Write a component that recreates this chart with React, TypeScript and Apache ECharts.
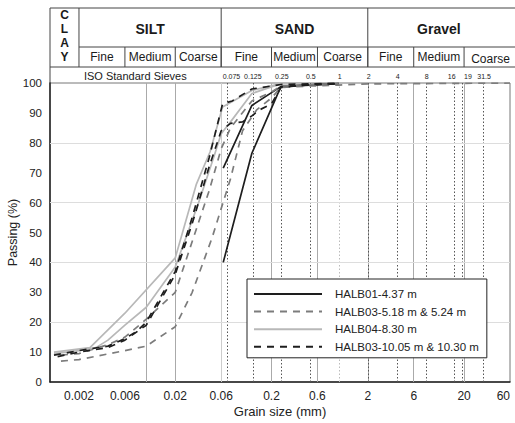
import React, { useEffect, useRef } from "react";
import * as echarts from "echarts";

const FONT = "'Liberation Sans', Arial, Helvetica, sans-serif";

const X_MIN = 0.001;
const X_MAX = 60;
const xTickValues = [0.002, 0.006, 0.02, 0.06, 0.2, 0.6, 2, 6, 20, 60];
const xTickLabels = ["0.002", "0.006", "0.02", "0.06", "0.2", "0.6", "2", "6", "20", "60"];
const sieveSizes = [0.075, 0.125, 0.25, 0.5, 1, 2, 4, 8, 16, 19, 31.5];
const sieveLabels = ["0.075", "0.125", "0.25", "0.5", "1", "2", "4", "8", "16", "19", "31.5"];
const hGridValues = [20, 40, 60, 80];

const mainClasses = ["SILT", "SAND", "Gravel"];
const mainBounds = [0.002, 0.06, 2, 60];
const subClasses = ["Fine", "Medium", "Coarse", "Fine", "Medium", "Coarse", "Fine", "Medium", "Coarse"];
const subBounds = [0.002, 0.006, 0.02, 0.06, 0.2, 0.6, 2, 6, 20, 60];
const clayLetters = ["C", "L", "A", "Y"];

const legendNames = [
  "HALB01-4.37 m",
  "HALB03-5.18 m & 5.24 m",
  "HALB04-8.30 m",
  "HALB03-10.05 m & 10.30 m",
];

// HALB01-4.37 m (two curves)
const halb01a = [[0.063, 40], [0.125, 76.5], [0.25, 98.8], [0.5, 99.3], [1, 99.8]];
const halb01b = [[0.063, 71.5], [0.125, 92.5], [0.25, 98.8], [0.5, 99.4], [1, 99.8]];
// HALB03-5.18 m & 5.24 m
const halb03s1 = [[0.0013, 7], [0.002, 7.5], [0.006, 10.5], [0.01, 12], [0.02, 18.5], [0.03, 30], [0.048, 48], [0.075, 68], [0.1, 84], [0.14, 91], [0.2, 95], [0.25, 98.5], [0.5, 99], [1, 99.3], [2, 99.7], [60, 100]];
const halb03s2 = [[0.0013, 9], [0.002, 9.5], [0.004, 12.5], [0.006, 15], [0.01, 21], [0.02, 30], [0.03, 47], [0.045, 64], [0.06, 78], [0.075, 85], [0.125, 94], [0.2, 97], [0.25, 99], [0.5, 99.5], [1, 99.8]];
// HALB04-8.30 m
const halb04a = [[0.0011, 10], [0.0026, 11.5], [0.006, 23], [0.02, 41.5], [0.033, 66], [0.046, 77], [0.062, 92], [0.125, 97.5], [0.25, 99.8], [0.5, 100]];
const halb04b = [[0.0011, 9.5], [0.002, 10.5], [0.003, 11.5], [0.004, 14], [0.006, 19], [0.01, 25], [0.02, 38.5], [0.035, 60], [0.05, 75], [0.06, 83], [0.075, 87], [0.125, 96.5], [0.25, 99.8], [0.5, 100]];
// HALB03-10.05 m & 10.30 m
const halb03d1 = [[0.0011, 9], [0.002, 10.5], [0.004, 12], [0.006, 14.5], [0.008, 17], [0.01, 20], [0.02, 37], [0.03, 55], [0.045, 75], [0.062, 93], [0.078, 94], [0.125, 98], [0.25, 99.5], [0.5, 99.7], [1, 100]];
const halb03d2 = [[0.0012, 8.5], [0.002, 10], [0.004, 11.5], [0.006, 14], [0.01, 19], [0.02, 36], [0.03, 53], [0.045, 72], [0.06, 84], [0.075, 86.5], [0.1, 87], [0.125, 89], [0.15, 91], [0.2, 93], [0.25, 98.5], [0.5, 99.5], [1, 99.8]];

const BLACK = "#1e1e1e";
const GRAY = "#7c7c7c";
const LIGHT = "#b8b8b8";
const DASH = [7, 6];

const curves = [
  { name: legendNames[0], data: halb01a, color: BLACK, type: "solid" as any },
  { name: legendNames[0], data: halb01b, color: BLACK, type: "solid" as any },
  { name: legendNames[1], data: halb03s1, color: GRAY, type: DASH as any },
  { name: legendNames[1], data: halb03s2, color: GRAY, type: DASH as any },
  { name: legendNames[2], data: halb04a, color: LIGHT, type: "solid" as any },
  { name: legendNames[2], data: halb04b, color: LIGHT, type: "solid" as any },
  { name: legendNames[3], data: halb03d1, color: BLACK, type: DASH as any },
  { name: legendNames[3], data: halb03d2, color: BLACK, type: DASH as any },
];

export default function App() {
  const ref = useRef<HTMLDivElement>(null);

  useEffect(() => {
    if (!ref.current) return;
    const chart = echarts.init(ref.current, undefined, { renderer: "svg" });

    const gridTop = 83;
    const markData: any[] = [];
    xTickValues.slice(0, -1).forEach((v) =>
      markData.push({ xAxis: v, lineStyle: { color: v === 0.06 ? "#cccccc" : "#aaaaaa", width: 1, type: "solid" } })
    );
    sieveSizes.forEach((v) =>
      markData.push({ xAxis: v, lineStyle: { color: v === 1 ? "#bbbbbb" : "#555555", width: 1, type: [1.5, 2] } })
    );
    hGridValues.forEach((v) =>
      markData.push({ yAxis: v, lineStyle: { color: "#dddddd", width: 1, type: "solid" } })
    );

    const option: any = {
      animation: false,
      backgroundColor: "#ffffff",
      textStyle: { fontFamily: FONT },
      grid: {
        left: 50, right: 5, top: gridTop, bottom: 41,
        containLabel: false,
        outerBoundsMode: "none",
        show: true, borderColor: "#777777", borderWidth: 1,
      },
      legend: {
        data: legendNames,
        orient: "vertical",
        left: 247,
        top: 279,
        z: 10,
        itemWidth: 68,
        itemHeight: 12,
        itemGap: 5.6,
        padding: [9, 8, 5, 6],
        borderColor: "#222222",
        borderWidth: 1,
        backgroundColor: "#ffffff",
        selectedMode: false,
        itemStyle: { opacity: 0 },
        textStyle: { fontSize: 11.5, color: "#222222", fontFamily: FONT, padding: [0, 0, 0, 8] },
      },
      xAxis: [
        {
          type: "log",
          logBase: 10,
          min: X_MIN,
          max: X_MAX,
          name: "Grain size (mm)",
          nameLocation: "middle",
          nameGap: 23,
          nameMoveOverlap: false,
          nameTextStyle: { fontSize: 13, color: "#222222", fontFamily: FONT },
          axisLine: { show: true, onZero: false, lineStyle: { color: "#222222", width: 1.5 } },
          axisTick: { show: false },
          axisLabel: { show: false },
          splitLine: { show: false },
          minorSplitLine: { show: false },
        },
        {
          type: "value",
          position: "bottom",
          min: Math.log10(X_MIN),
          max: Math.log10(X_MAX),
          axisLine: { show: false, onZero: false },
          axisTick: { show: false },
          splitLine: { show: false },
          axisLabel: {
            show: true,
            customValues: xTickValues.map((v) => Math.log10(v)),
            alignMaxLabel: "right",
            fontSize: 12,
            color: "#222222",
            fontFamily: FONT,
            margin: 8,
            formatter: (val: number) => {
              let best = 0;
              let bd = Infinity;
              xTickValues.forEach((t, i) => {
                const d = Math.abs(Math.log10(t) - val);
                if (d < bd) { bd = d; best = i; }
              });
              return xTickLabels[best];
            },
          },
        },
      ],
      yAxis: {
        type: "value",
        min: 0,
        max: 100,
        interval: 10,
        name: "Passing (%)",
        nameLocation: "middle",
        nameGap: 31,
        nameMoveOverlap: false,
        nameTextStyle: { fontSize: 12.5, color: "#222222", fontFamily: FONT },
        axisLine: { show: true, onZero: false, lineStyle: { color: "#222222", width: 1.5 } },
        axisTick: { show: false },
        axisLabel: { fontSize: 11.5, color: "#222222", fontFamily: FONT, margin: 8 },
        splitLine: { show: false },
      },
      series: [
        {
          type: "line",
          name: "__grid",
          data: [],
          silent: true,
          z: 1,
          markLine: {
            silent: true,
            z: 1,
            symbol: ["none", "none"],
            label: { show: false },
            emphasis: { disabled: true },
            data: markData,
          },
        },
        ...curves.map((c) => ({
          type: "line",
          name: c.name,
          data: c.data,
          symbol: "none",
          showSymbol: false,
          z: 3,
          itemStyle: { color: c.color },
          lineStyle: { color: c.color, width: 1.7, type: c.type },
          emphasis: { disabled: true },
        })),
      ],
    };

    chart.setOption(option);

    const px = (v: number) => chart.convertToPixel({ xAxisIndex: 0 }, v) as number;
    const y0 = 8, y1 = 47, y2 = 67, y3 = gridTop;
    const left = px(X_MIN);
    const rightEdge = 515;
    const stroke = { stroke: "#444444", lineWidth: 1 };
    const g: any[] = [];
    const line = (x1: number, ya: number, x2: number, yb: number) =>
      g.push({ type: "line", silent: true, shape: { x1, y1: ya, x2, y2: yb }, style: stroke });
    const text = (t: string, x: number, y: number, size: number, weight: string, align = "center") =>
      g.push({
        type: "text", silent: true,
        style: { text: t, x, y, align, verticalAlign: "middle", fontSize: size, fontWeight: weight, fontFamily: FONT, fill: "#1a1a1a" },
      });

    line(left, y0, rightEdge, y0);
    line(px(0.002), y1, rightEdge, y1);
    line(left, y2, rightEdge, y2);
    line(left, y0, left, y3);
    mainBounds.slice(0, -1).forEach((b) => line(px(b), y0, px(b), y2));
    subBounds.forEach((b, i) => {
      if (i > 0 && i < subBounds.length - 1) line(px(b), y1, px(b), y2);
    });

    clayLetters.forEach((l, i) => text(l, (left + px(0.002)) / 2, 15 + i * 14, 12, "bold"));
    mainClasses.forEach((m, i) => {
      const xa = px(mainBounds[i]);
      const xb = px(mainBounds[i + 1]);
      text(m, (xa + xb) / 2, (y0 + y1) / 2 + 1, 14, "bold");
    });
    subClasses.forEach((s, i) => {
      const xa = px(subBounds[i]);
      const xb = px(subBounds[i + 1]);
      const last = i === subClasses.length - 1;
      const cx = last ? (xa + rightEdge) / 2 + 1 : (xa + xb) / 2;
      text(s, cx, (y1 + y2) / 2 + (last ? 2 : 0), 12, "normal");
    });
    text("ISO Standard Sieves", px(0.002) + 5, (y2 + y3) / 2 + 0.5, 11, "normal", "left");
    sieveSizes.forEach((s, i) => {
      let dx = 1;
      if (s === 16) dx = -3;
      if (s === 19) dx = 6;
      text(sieveLabels[i], px(s) + dx, (y2 + y3) / 2 + 1, 7, "normal");
    });

    chart.setOption({ graphic: { elements: g } });

    return () => chart.dispose();
  }, []);

  return (
    <div
      ref={ref}
      style={{ position: "fixed", left: 0, top: 0, width: 515, height: 423, background: "#fff" }}
    />
  );
}
